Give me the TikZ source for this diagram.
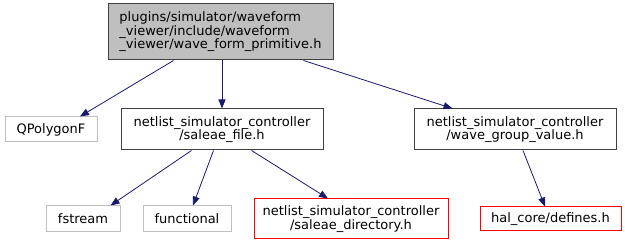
\documentclass[tikz,border=0pt]{standalone}
\usepackage{fontspec}
\setmainfont{DejaVu Sans}
\usetikzlibrary{arrows.meta}
\definecolor{edgec}{HTML}{191970}
\definecolor{grayfill}{HTML}{BFBFBF}
\definecolor{graybord}{HTML}{BFBFBF}
\definecolor{darkbord}{HTML}{404040}
\begin{document}
\begin{tikzpicture}[x=1pt,y=-1pt,
  every node/.style={font=\fontsize{13}{13.5}\selectfont, inner sep=0pt, align=center, line width=1pt},
  mainbox/.style={draw=darkbord, fill=grayfill, align=left},
  blackbox/.style={draw=darkbord, fill=white},
  extbox/.style={draw=graybord, fill=white},
  redbox/.style={draw=red, fill=white},
  dep/.style={draw=edgec, line width=0.8pt, -{Triangle[length=9pt,width=7pt]}}]
\useasboundingbox (0,0) rectangle (625,245);
\node[mainbox, minimum width=225pt, minimum height=56pt] (top) at (220.5,32) {plugins/simulator/waveform\\\_viewer/include/waveform\\\_viewer/wave\_form\_primitive.h};
\node[extbox, minimum width=92pt, minimum height=25pt] (qp) at (51,129.5) {QPolygonF};
\node[blackbox, minimum width=202pt, minimum height=41pt] (sf) at (222,129.5) {netlist\_simulator\_controller\\/saleae\_file.h};
\node[blackbox, minimum width=202pt, minimum height=41pt] (wg) at (515,129.5) {netlist\_simulator\_controller\\/wave\_group\_value.h};
\node[extbox, minimum width=74pt, minimum height=26pt] (fs) at (83,219) {fstream};
\node[extbox, minimum width=88pt, minimum height=26pt] (fn) at (187,219) {functional};
\node[redbox, minimum width=194pt, minimum height=40pt] (sd) at (351,219) {netlist\_simulator\_controller\\/saleae\_directory.h};
\node[redbox, minimum width=141pt, minimum height=24pt] (hal) at (550.5,219) {hal\_core/defines.h};
\draw[dep] ([xshift=66pt]top.south west) -- ([xshift=29pt]qp.north);
\draw[dep] ([xshift=1.5pt]top.south) -- (sf.north);
\draw[dep] ([xshift=-30pt]top.south east) -- ([xshift=39pt]wg.north west);
\draw[dep] ([xshift=71pt]sf.south west) -- ([xshift=-10pt]fs.north east);
\draw[dep] ([xshift=93pt]sf.south west) -- ([xshift=6pt]fn.north);
\draw[dep] ([xshift=131pt]sf.south west) -- ([xshift=-23pt]sd.north);
\draw[dep] ([xshift=8pt]wg.south) -- ([xshift=-5.5pt]hal.north);
\end{tikzpicture}
\end{document}
